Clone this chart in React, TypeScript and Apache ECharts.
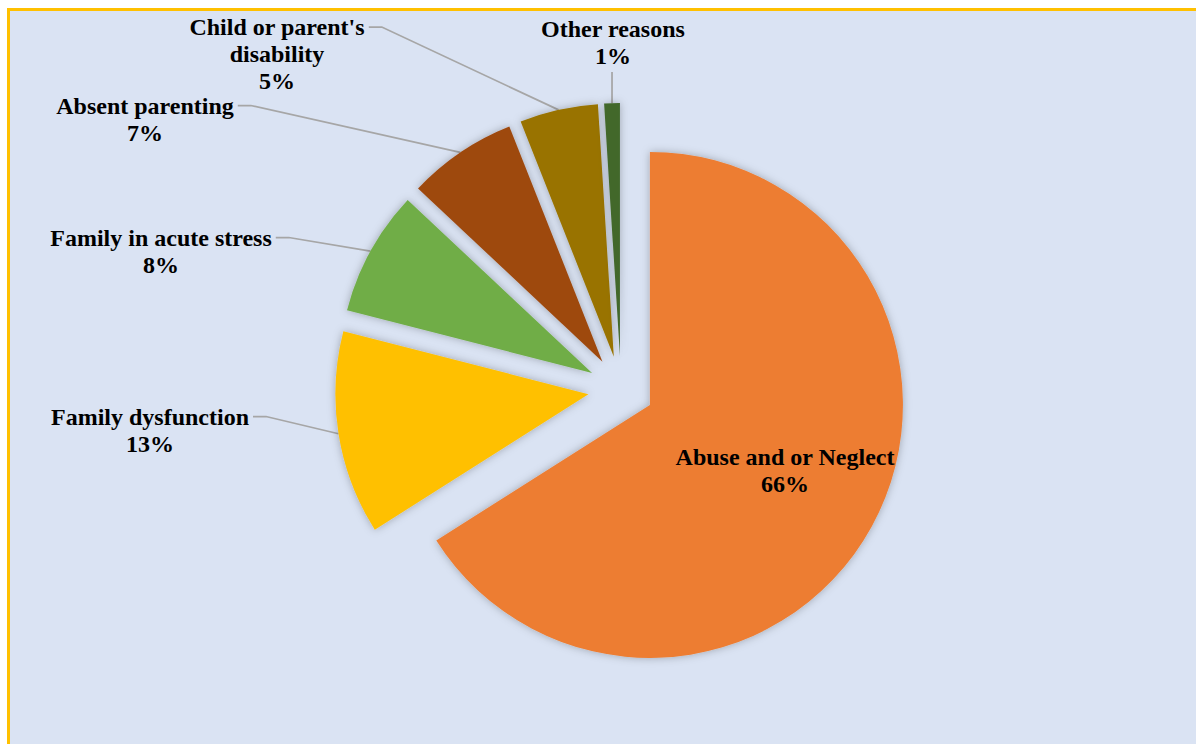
import React, { useEffect, useRef } from "react";
import * as echarts from "echarts";

// ---- data ----
const categories = [
  "Abuse and or Neglect",
  "Family dysfunction",
  "Family in acute stress",
  "Absent parenting",
  "Child or parent's disability",
  "Other reasons",
];
const values = [66, 13, 8, 7, 5, 1];
const colors = ["#ED7D31", "#FFC000", "#70AD47", "#9E480E", "#997300", "#43682B"];

// ---- layout (px) ----
const PIE_CENTER = [621, 389];
const PIE_RADIUS = 253;
const EXPLODE = 33;
const labelCenters: number[][] = [
  [785, 470],
  [150, 430],
  [161, 251],
  [145, 119],
  [277, 54],
  [613, 42],
];

const FONT = '"Liberation Serif", "Times New Roman", serif';
const FONT_SIZE = 24;
const LINE_H = 27;

function wrapName(name: string): string {
  return name.replace("parent's ", "parent's\n");
}

function measure(text: string): number {
  const c = document.createElement("canvas").getContext("2d");
  if (!c) return text.length * 11;
  c.font = `bold ${FONT_SIZE}px ${FONT}`;
  return c.measureText(text).width;
}

export default function App() {
  const ref = useRef<HTMLDivElement>(null);
  useEffect(() => {
    if (!ref.current) return;
    const chart = echarts.init(ref.current, null, { renderer: "svg" });
    const total = values.reduce((a, b) => a + b, 0);
    let cum = 0;
    const series = categories.map((_, k) => {
      const mid = ((cum + values[k] / 2) / total) * Math.PI * 2;
      cum += values[k];
      const center = [
        PIE_CENTER[0] + EXPLODE * Math.sin(mid),
        PIE_CENTER[1] - EXPLODE * Math.cos(mid),
      ];
      const data = categories.map((name, i) => {
        const visible = i === k;
        return {
          name,
          value: values[i],
          itemStyle: visible
            ? { color: colors[i], shadowBlur: 8, shadowColor: "rgba(0,0,0,0.28)" }
            : { color: "rgba(0,0,0,0)", shadowBlur: 0 },
          label: visible
            ? { show: true, position: i === 0 ? "inside" : "outside" }
            : { show: false },
          labelLine: { show: visible && i !== 0 },
        };
      });
      return {
        type: "pie",
        name: categories[k],
        center,
        radius: PIE_RADIUS,
        startAngle: 90,
        clockwise: true,
        percentPrecision: 0,
        avoidLabelOverlap: false,
        silent: true,
        z: 2,
        data,
        label: {
          formatter: (p: any) => `${wrapName(p.name)}\n${p.percent}%`,
          fontFamily: FONT,
          fontWeight: "bold",
          fontSize: FONT_SIZE,
          lineHeight: LINE_H,
          color: "#000",
          align: "center",
        },
        labelLine: {
          lineStyle: { color: "#A6A6A6", width: 1.75 },
        },
        emphasis: { disabled: true },
        labelLayout: (p: any) => {
          const i = p.dataIndex;
          if (i !== k) return {};
          const [cx, cy] = labelCenters[i];
          const res: any = { x: cx, y: cy, align: "center", verticalAlign: "middle" };
          if (i === 0) return res;
          const arc = p.labelLinePoints && p.labelLinePoints[0];
          if (!arc) return res;
          const lines = `${wrapName(categories[i])}\n0%`.split("\n");
          const n = lines.length;
          const topY = cy - (n * LINE_H) / 2;
          if (Math.abs(arc[0] - cx) < 60 && arc[1] > cy) {
            const start = [arc[0], topY + n * LINE_H + 3];
            res.labelLinePoints = [arc, start, start];
          } else {
            const w = measure(lines[0]);
            const sy = topY + LINE_H / 2;
            const start = [cx + w / 2 + 4, sy];
            const elbow = [start[0] + 13, sy];
            res.labelLinePoints = [arc, elbow, start];
          }
          return res;
        },
      };
    });
    chart.setOption({
      animation: false,
      backgroundColor: "transparent",
      graphic: [
        {
          type: "rect",
          shape: { x: 8.5, y: 9.5, width: 1400, height: 900 },
          style: { fill: "#DAE3F3", stroke: "#FFC000", lineWidth: 3 },
          z: -10,
          silent: true,
        },
      ],
      series,
    });
    return () => chart.dispose();
  }, []);
  return (
    <div
      ref={ref}
      style={{ position: "absolute", left: 0, top: 0, width: 1196, height: 744 }}
    />
  );
}
